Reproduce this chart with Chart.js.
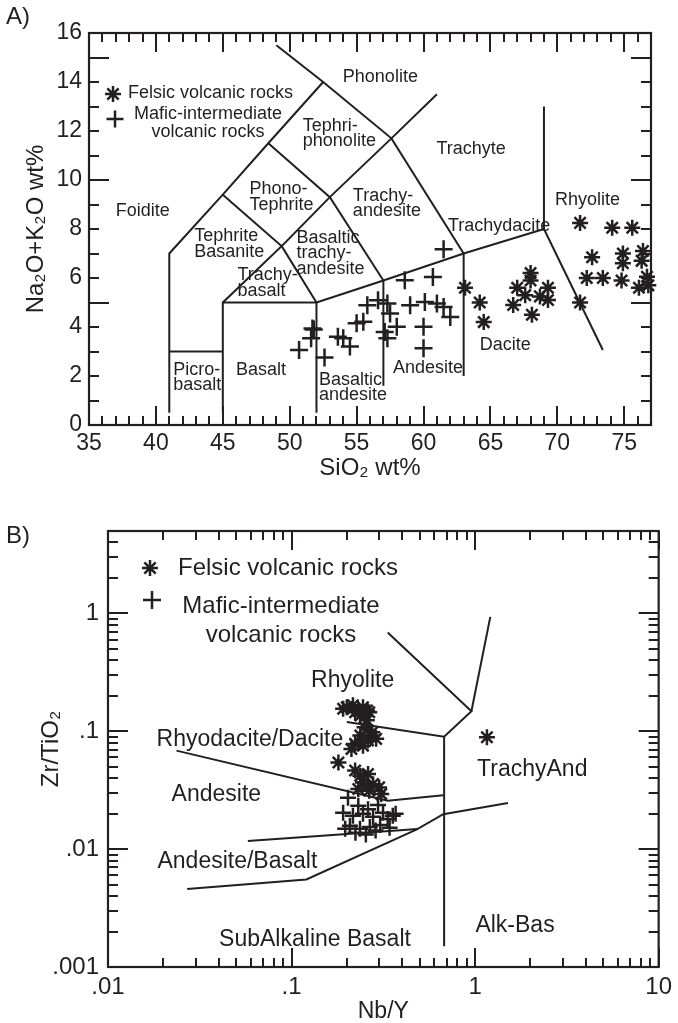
<!DOCTYPE html>
<html lang="en">
<head>
<meta charset="utf-8">
<title>TAS e Zr/TiO2 x Nb/Y</title>
<script src="https://cdn.jsdelivr.net/npm/chart.js@4.4.1/dist/chart.umd.min.js"></script>
<style>
  html, body { margin: 0; padding: 0; background: #fff; }
  .painel { position: absolute; left: 0; width: 678px; }
  #painelA { top: 0; height: 500px; }
  #painelB { top: 500px; height: 523px; }
</style>
</head>
<body>
<div class="painel" id="painelA"><canvas id="graficoTAS"></canvas></div>
<div class="painel" id="painelB"><canvas id="graficoZrTi"></canvas></div>
<script>
const COR = '#231f20';
const FONTE = "'Liberation Sans', Arial, Helvetica, sans-serif";

// ================= A) diagrama TAS =================
// Rochas félsicas (asterisco): SiO2 e Na2O+K2O
const felsicaSiO2   = [71.7, 74.1, 75.6, 72.6, 74.9, 76.4, 74.9, 76.3, 72.2, 73.4, 74.8, 76.1, 76.8, 76.7,
                       68.0, 68.0, 67.0, 69.3, 67.6, 68.7, 66.7, 69.3, 68.1, 63.1, 64.2, 64.5, 71.7];
const felsicaAlcali = [8.25, 8.05, 8.05, 6.85, 7.0, 7.1, 6.6, 6.7, 6.0, 6.0, 5.9, 5.6, 5.7, 6.05,
                       6.2, 5.9, 5.6, 5.6, 5.3, 5.25, 4.9, 5.1, 4.5, 5.6, 5.0, 4.2, 5.0];
// Rochas máficas-intermediárias (cruz)
const maficaSiO2    = [50.7, 51.6, 51.7, 51.8, 52.6, 53.6, 54.0, 54.5, 55.0, 55.5, 55.8, 56.6, 57.3, 57.1,
                       57.3, 57.5, 58.0, 58.6, 59.0, 60.0, 60.0, 60.1, 60.7, 61.0, 61.5, 62.0, 61.5];
const maficaAlcali  = [3.06, 3.54, 3.94, 3.9, 2.76, 3.6, 3.54, 3.2, 4.15, 4.21, 4.89, 5.09, 4.96, 3.8,
                       3.54, 4.55, 4.01, 5.91, 4.89, 4.01, 3.13, 5.02, 6.04, 4.96, 4.82, 4.41, 7.17];

// Limites dos campos (cada um é uma polilinha de pontos [SiO2, álcalis])
const limitesTAS = [
  [[41, 0.5], [41, 7], [45, 9.4], [48.4, 11.5], [52.5, 14]],
  [[49, 15.5], [52.5, 14], [57.6, 11.7], [63, 7]],
  [[41, 3], [45, 3]],
  [[45, 0.5], [45, 5], [49.4, 7.3], [52, 5], [52, 0.5]],
  [[45, 5], [52, 5]],
  [[45, 9.4], [49.4, 7.3], [53, 9.3], [57.6, 11.7], [61, 13.5]],
  [[48.4, 11.5], [53, 9.3], [57, 5.9]],
  [[52, 5], [57, 5.9], [63, 7], [69, 8]],
  [[57, 1.6], [57, 5.9]],
  [[63, 2.0], [63, 7]],
  [[69, 13], [69, 8], [73.4, 3.06]]
];

// Nome dos campos: linhas do texto, SiO2 da borda esquerda, álcalis no meio da 1a linha
const camposTAS = [
  { texto: ['Phonolite'], x: 53.97, y: 14.2 },
  { texto: ['Tephri-', 'phonolite'], x: 50.98, y: 12.21 },
  { texto: ['Trachyte'], x: 60.97, y: 11.27 },
  { texto: ['Phono-', 'Tephrite'], x: 46.99, y: 9.63 },
  { texto: ['Foidite'], x: 37.0, y: 8.75 },
  { texto: ['Tephrite', 'Basanite'], x: 42.87, y: 7.7 },
  { texto: ['Basaltic', 'trachy-', 'andesite'], x: 50.5, y: 7.65 },
  { texto: ['Trachy-', 'basalt'], x: 46.09, y: 6.11 },
  { texto: ['Trachy-', 'andesite'], x: 54.72, y: 9.36 },
  { texto: ['Trachydacite'], x: 61.82, y: 8.14 },
  { texto: ['Rhyolite'], x: 69.83, y: 9.2 },
  { texto: ['Dacite'], x: 64.21, y: 3.27 },
  { texto: ['Andesite'], x: 57.72, y: 2.31 },
  { texto: ['Basaltic', 'andesite'], x: 52.18, y: 1.84 },
  { texto: ['Basalt'], x: 45.98, y: 2.25 },
  { texto: ['Picro-', 'basalt'], x: 41.29, y: 2.25 }
];

const rotulosSiO2   = [35, 40, 45, 50, 55, 60, 65, 70, 75];
const rotulosAlcali = [0, 2, 4, 6, 8, 10, 12, 14, 16];

// ================= B) Zr/TiO2 x Nb/Y =================
const felsicaNbY  = [0.191, 0.216, 0.245, 0.265, 0.237, 0.257, 0.222, 0.200, 0.232, 0.258, 0.250, 0.237,
                     0.270, 0.289, 0.222, 0.245, 0.261, 0.212, 0.275, 0.180, 0.222, 0.237, 0.261, 0.245,
                     0.278, 0.300, 0.231, 0.265, 0.308, 1.16];
const felsicaZrTi = [0.155, 0.166, 0.160, 0.145, 0.136, 0.124, 0.145, 0.160, 0.150, 0.150, 0.108, 0.092,
                     0.092, 0.0862, 0.0781, 0.0755, 0.0834, 0.0708, 0.098, 0.0544, 0.0464, 0.042, 0.0434, 0.0368,
                     0.0356, 0.0334, 0.0324, 0.0313, 0.0293, 0.0889];
const maficaNbY   = [0.203, 0.191, 0.216, 0.245, 0.278, 0.315, 0.356, 0.208, 0.236, 0.267, 0.304,
                     0.342, 0.223, 0.254, 0.287, 0.196, 0.231, 0.261, 0.296, 0.334, 0.369];
const maficaZrTi  = [0.0273, 0.0204, 0.0192, 0.0200, 0.0188, 0.0204, 0.0192, 0.0158, 0.0149, 0.0154, 0.0160,
                     0.0152, 0.0138, 0.0133, 0.0144, 0.0149, 0.0233, 0.0218, 0.0237, 0.0180, 0.0200];

// Limites dos campos [Nb/Y, Zr/TiO2]
const limitesZrTi = [
  [[0.2, 0.12], [0.678, 0.090], [0.955, 0.148], [0.334, 0.689]],
  [[0.955, 0.148], [1.21, 0.935]],
  [[0.678, 0.090], [0.678, 0.0015]],
  [[0.0236, 0.0685], [0.334, 0.0257], [0.671, 0.0287]],
  [[0.0578, 0.0117], [0.485, 0.0148], [0.671, 0.0198], [1.51, 0.0246]],
  [[0.027, 0.0046], [0.1205, 0.00553], [0.485, 0.0148]]
];

const camposZrTi = [
  { texto: ['Rhyolite'], x: 0.1278, y: 0.27 },
  { texto: ['Rhyodacite/Dacite'], x: 0.0184, y: 0.085 },
  { texto: ['Andesite'], x: 0.0222, y: 0.0289 },
  { texto: ['Andesite/Basalt'], x: 0.0186, y: 0.00776 },
  { texto: ['SubAlkaline Basalt'], x: 0.0403, y: 0.00171 },
  { texto: ['Alk-Bas'], x: 1.004, y: 0.00226 },
  { texto: ['TrachyAnd'], x: 1.025, y: 0.0472 }
];

const valoresRotuloNbY  = [0.01, 0.1, 1, 10];
const textosRotuloNbY   = ['.01', '.1', '1', '10'];
const valoresRotuloZrTi = [0.001, 0.01, 0.1, 1];
const textosRotuloZrTi  = ['.001', '.01', '.1', '1'];

// ---------- helpers ----------

// marcas de 1 em 1 pro eixo linear
function marcasLineares(min, max) {
  const v = [];
  for (let i = min; i <= max; i++) v.push(i);
  return v;
}

// marcas de log: 1..9 de cada década
function marcasLog(expMin, expMax, ultimo) {
  const v = [];
  for (let e = expMin; e < expMax; e++) {
    for (let m = 1; m <= 9; m++) v.push(parseFloat((m * Math.pow(10, e)).toPrecision(3)));
  }
  ultimo.forEach(u => v.push(u));
  return v;
}

function ehDecada(v) {
  return Math.abs(Math.log10(v) - Math.round(Math.log10(v))) < 1e-6;
}

function rotuloLog(valores, textos) {
  return function (v) {
    for (let i = 0; i < valores.length; i++) {
      if (Math.abs(Math.log10(v) - Math.log10(valores[i])) < 1e-6) return textos[i];
    }
    return '';
  };
}

function montarLinhas(limites) {
  return limites.map(l => ({
    showLine: true,
    data: l.map(p => ({ x: p[0], y: p[1] })),
    borderColor: COR,
    borderWidth: 2,
    pointRadius: 0,
    fill: false,
    tension: 0
  }));
}

function montarPontos(xs, ys, estilo, raio) {
  return {
    data: xs.map((v, i) => ({ x: v, y: ys[i] })),
    pointStyle: estilo,
    pointRadius: raio,
    borderColor: COR,
    backgroundColor: COR,
    borderWidth: 2.5,
    showLine: false,
    clip: false
  };
}

// Moldura com os tracinhos pra dentro nos 4 lados
function pluginMoldura(id, maiorX, maiorY) {
  return {
    id: id,
    afterDatasetsDraw(chart) {
      const { ctx, chartArea: a, scales: { x, y } } = chart;
      ctx.save();
      ctx.strokeStyle = COR;
      ctx.lineWidth = 2;
      ctx.beginPath();
      x.ticks.forEach(t => {
        const px = Math.round(x.getPixelForValue(t.value));
        const tam = maiorX(t.value) ? 19 : 9;
        ctx.moveTo(px, a.bottom); ctx.lineTo(px, a.bottom - tam);
        ctx.moveTo(px, a.top); ctx.lineTo(px, a.top + tam);
      });
      y.ticks.forEach(t => {
        const py = Math.round(y.getPixelForValue(t.value));
        const tam = maiorY(t.value) ? 20 : 10;
        ctx.moveTo(a.left, py); ctx.lineTo(a.left + tam, py);
        ctx.moveTo(a.right, py); ctx.lineTo(a.right - tam, py);
      });
      ctx.stroke();
      ctx.lineWidth = 2.2;
      ctx.strokeRect(a.left, a.top, a.right - a.left, a.bottom - a.top);
      ctx.restore();
    }
  };
}

// Nomes dos campos (posição pelas escalas) + legenda + letra do painel
function pluginTextos(id, campos, tamFonte, entreLinhas, legenda, letra) {
  return {
    id: id,
    afterDatasetsDraw(chart) {
      const { ctx, scales: { x, y } } = chart;
      ctx.save();
      ctx.fillStyle = COR;
      ctx.strokeStyle = COR;
      ctx.textBaseline = 'middle';
      ctx.textAlign = 'left';
      ctx.font = tamFonte + 'px ' + FONTE;
      campos.forEach(c => {
        const px = x.getPixelForValue(c.x);
        const py = y.getPixelForValue(c.y);
        c.texto.forEach((linha, i) => ctx.fillText(linha, px, py + i * entreLinhas));
      });

      ctx.font = legenda.fonte + 'px ' + FONTE;
      legenda.simbolos.forEach(s => {
        Chart.helpers.drawPoint(ctx, { pointStyle: s.estilo, radius: s.raio, rotation: 0, borderWidth: 2.5 }, s.x, s.y);
      });
      legenda.textos.forEach(t => {
        ctx.textAlign = t.alinha;
        ctx.fillText(t.texto, t.x, t.y);
      });

      ctx.textAlign = 'left';
      ctx.font = '24px ' + FONTE;
      ctx.fillText(letra.texto, letra.x, letra.y);
      ctx.restore();
    }
  };
}

Chart.defaults.font.family = FONTE;
Chart.defaults.color = COR;

// ---------- A) TAS ----------
const marcasSiO2 = marcasLineares(35, 77);
const marcasAlcali = marcasLineares(0, 16);

const legendaA = {
  fonte: 18,
  simbolos: [
    { estilo: 'star', raio: 8, x: 113, y: 94 },
    { estilo: 'cross', raio: 8.5, x: 115, y: 119 }
  ],
  textos: [
    { texto: 'Felsic volcanic rocks', x: 128, y: 93, alinha: 'left' },
    { texto: 'Mafic-intermediate', x: 208, y: 114, alinha: 'center' },
    { texto: 'volcanic rocks', x: 208, y: 132, alinha: 'center' }
  ]
};

new Chart(document.getElementById('graficoTAS'), {
  type: 'scatter',
  data: {
    datasets: [
      montarPontos(felsicaSiO2, felsicaAlcali, 'star', 8),
      montarPontos(maficaSiO2, maficaAlcali, 'cross', 9)
    ].concat(montarLinhas(limitesTAS))
  },
  options: {
    responsive: true,
    maintainAspectRatio: false,
    animation: false,
    devicePixelRatio: 1,
    events: [],
    layout: { padding: { top: 33, right: 27, left: 0, bottom: 0 } },
    plugins: { legend: { display: false }, tooltip: { enabled: false } },
    scales: {
      x: {
        type: 'linear', min: 35, max: 77,
        grid: { display: false, drawTicks: false },
        border: { display: false },
        afterBuildTicks: s => { s.ticks = marcasSiO2.map(v => ({ value: v })); },
        afterFit: s => { s.height = 75; },
        ticks: {
          autoSkip: false, maxRotation: 0, padding: 5,
          font: { size: 23 },
          callback: v => rotulosSiO2.includes(v) ? String(v) : ''
        },
        title: { display: true, text: 'SiO₂ wt%', font: { size: 24 }, padding: { top: 0, bottom: 17 } }
      },
      y: {
        type: 'linear', min: 0, max: 16,
        grid: { display: false, drawTicks: false },
        border: { display: false },
        afterBuildTicks: s => { s.ticks = marcasAlcali.map(v => ({ value: v })); },
        afterFit: s => { s.width = 89; },
        ticks: {
          autoSkip: false, padding: 7,
          font: { size: 23 },
          callback: v => rotulosAlcali.includes(v) ? String(v) : ''
        },
        title: { display: true, text: 'Na₂O+K₂O wt%', font: { size: 24 }, padding: { top: 22, bottom: 0 } }
      }
    }
  },
  plugins: [
    pluginMoldura('molduraA', v => v % 5 === 0, v => v % 5 === 0),
    pluginTextos('textosA', camposTAS, 18, 15.5, legendaA, { texto: 'A)', x: 6, y: 17 })
  ]
});

// ---------- B) Zr/TiO2 x Nb/Y ----------
const marcasNbY = marcasLog(-2, 1, [10]);
const marcasZrTi = marcasLog(-3, 0, [1, 2, 3, 4, 5]);

const legendaB = {
  fonte: 24,
  simbolos: [
    { estilo: 'star', raio: 8, x: 150, y: 68 },
    { estilo: 'cross', raio: 9, x: 152, y: 100 }
  ],
  textos: [
    { texto: 'Felsic volcanic rocks', x: 178, y: 68, alinha: 'left' },
    { texto: 'Mafic-intermediate', x: 281, y: 106, alinha: 'center' },
    { texto: 'volcanic rocks', x: 281, y: 135, alinha: 'center' }
  ]
};

new Chart(document.getElementById('graficoZrTi'), {
  type: 'scatter',
  data: {
    datasets: [
      montarPontos(felsicaNbY, felsicaZrTi, 'star', 8),
      montarPontos(maficaNbY, maficaZrTi, 'cross', 8)
    ].concat(montarLinhas(limitesZrTi))
  },
  options: {
    responsive: true,
    maintainAspectRatio: false,
    animation: false,
    devicePixelRatio: 1,
    events: [],
    layout: { padding: { top: 31, right: 15, left: 0, bottom: 0 } },
    plugins: { legend: { display: false }, tooltip: { enabled: false } },
    scales: {
      x: {
        type: 'logarithmic', min: 0.01, max: 10,
        grid: { display: false, drawTicks: false },
        border: { display: false },
        afterBuildTicks: s => { s.ticks = marcasNbY.map(v => ({ value: v })); },
        afterFit: s => { s.height = 56; },
        ticks: {
          autoSkip: false, maxRotation: 0, padding: 6,
          font: { size: 24 },
          callback: rotuloLog(valoresRotuloNbY, textosRotuloNbY)
        },
        title: { display: true, text: 'Nb/Y', font: { size: 23 }, padding: { top: 0, bottom: -2 } }
      },
      y: {
        type: 'logarithmic', min: 0.001, max: 5,
        grid: { display: false, drawTicks: false },
        border: { display: false },
        afterBuildTicks: s => { s.ticks = marcasZrTi.map(v => ({ value: v })); },
        afterFit: s => { s.width = 108; },
        ticks: {
          autoSkip: false, padding: 9,
          font: { size: 24 },
          callback: rotuloLog(valoresRotuloZrTi, textosRotuloZrTi)
        },
        title: { display: true, text: 'Zr/TiO₂', font: { size: 24 }, padding: { top: 37, bottom: 0 } }
      }
    }
  },
  plugins: [
    pluginMoldura('molduraB', ehDecada, ehDecada),
    pluginTextos('textosB', camposZrTi, 23, 26, legendaB, { texto: 'B)', x: 6, y: 36 })
  ]
});
</script>
</body>
</html>
